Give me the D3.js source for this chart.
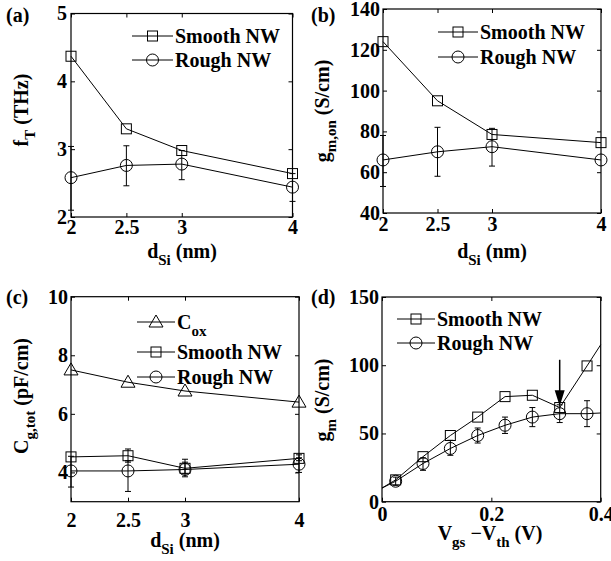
<!DOCTYPE html>
<html>
<head>
<meta charset="utf-8">
<script src="https://cdn.jsdelivr.net/npm/d3@7"></script>
<style>
  body { margin: 0; background: #fff; }
</style>
</head>
<body>
<svg width="611" height="561"></svg>
<script>
// panels (a)-(c): silicon thickness
var dSi = [2, 2.5, 3, 4];
var dSiTicks = [2, 2.5, 3, 4];

// (a) cutoff frequency, THz
var ftSmooth = [4.37, 3.3, 2.98, 2.64];
var ftRough = [2.58, 2.76, 2.78, 2.44];
var ftRoughLo = [2.1, 2.46, 2.55, 2.23];
var ftRoughHi = [3.04, 3.05, 2.98, 2.64];

// (b) on-state transconductance, S/cm
var gmSmooth = [124, 95, 78.5, 74.5];
var gmRough = [66, 70, 72.5, 66];
var gmRoughLo = [53, 58, 63, 66];
var gmRoughHi = [78, 82, 81.5, 66];

// (c) gate capacitance, pF/cm
var cox = [7.5, 7.08, 6.78, 6.4];
var cgSmooth = [4.53, 4.57, 4.14, 4.48];
var cgSmoothLo = [4.53, 4.35, 3.95, 4.4];
var cgSmoothHi = [4.53, 4.8, 4.45, 4.6];
var cgRough = [4.05, 4.05, 4.1, 4.28];
var cgRoughLo = [3.5, 3.35, 3.85, 4.0];
var cgRoughHi = [4.55, 4.4, 4.35, 4.5];

// (d) transconductance vs overdrive
var vov = [0, 0.025, 0.075, 0.125, 0.175, 0.225, 0.275, 0.325, 0.375, 0.4];
var gmSmoothV = [10, 16, 33, 48.5, 62, 77, 78, 69, 99.5, 115];
var gmRoughV = [10, 15, 28, 39, 48.5, 56, 62, 64.5, 64.5, 65];
var gmRoughVLo = [null, 12, 23, 34, 43, 50, 55, 58, 55, null];
var gmRoughVHi = [null, 18, 32, 45, 54, 62, 69, 71, 74, null];
var arrowV = [0.325, 104, 70];

var FONT = "'Liberation Serif', 'Times New Roman', Times, 'Nimbus Roman', 'Nimbus Roman No9 L', FreeSerif, Tinos, 'Noto Serif', 'DejaVu Serif', serif";
var svg = d3.select("svg")
    .style("font-family", FONT)
    .style("font-weight", "bold");
var line = d3.line();

function panel(o) {
    var x = d3.scaleLinear().domain(o.xd).range([o.l, o.r]);
    var y = d3.scaleLinear().domain(o.yd).range([o.b, o.t]);
    var g = svg.append("g");

    g.append("g").attr("transform", "translate(0," + o.b + ")")
        .call(d3.axisBottom(x).tickValues(o.xt).tickSize(-4).tickPadding(o.xpad).tickFormat(d3.format("")))
        .call(styleAxis);
    g.append("g").attr("transform", "translate(0," + o.t + ")")
        .call(d3.axisTop(x).tickValues(o.xt).tickSize(-4).tickFormat(""))
        .call(styleAxis);
    g.append("g").attr("transform", "translate(" + o.l + ",0)")
        .call(d3.axisLeft(y).tickValues(o.yt).tickSize(-4).tickPadding(o.ypad).tickFormat(d3.format("")))
        .call(styleAxis);
    g.append("g").attr("transform", "translate(" + o.r + ",0)")
        .call(d3.axisRight(y).tickValues(o.yt).tickSize(-4).tickFormat(""))
        .call(styleAxis);

    g.append("rect")
        .attr("x", o.l).attr("y", o.t)
        .attr("width", o.r - o.l).attr("height", o.b - o.t)
        .attr("fill", "none").attr("stroke", "#000").attr("stroke-width", 1.2);

    return { g: g, x: x, y: y };
}

function styleAxis(sel) {
    sel.attr("font-family", null).attr("font-size", 20);
    sel.select(".domain").remove();
    sel.selectAll(".tick line").attr("stroke", "#000").attr("stroke-width", 1);
    sel.selectAll(".tick text").attr("fill", "#000");
}

function series(p, xs, ys, marker, lo, hi, skipEnds) {
    var pts = xs.map(function (v, i) { return [p.x(v), p.y(ys[i])]; });
    p.g.append("path").attr("d", line(pts))
        .attr("fill", "none").attr("stroke", "#000").attr("stroke-width", 1);
    if (lo) {
        xs.forEach(function (v, i) {
            if (lo[i] == null || lo[i] === hi[i]) return;
            var cx = p.x(v), y0 = p.y(lo[i]), y1 = p.y(hi[i]);
            p.g.append("path")
                .attr("d", "M" + cx + "," + y0 + "V" + y1 + "M" + (cx - 3) + "," + y0 + "H" + (cx + 3) + "M" + (cx - 3) + "," + y1 + "H" + (cx + 3))
                .attr("fill", "none").attr("stroke", "#000").attr("stroke-width", 1);
        });
    }
    pts.forEach(function (pt, i) {
        if (skipEnds && (i === 0 || i === pts.length - 1)) return;
        drawMarker(p.g, marker, pt[0], pt[1]);
    });
}

function drawMarker(g, type, cx, cy) {
    if (type === "square") {
        g.append("rect").attr("x", cx - 5).attr("y", cy - 5).attr("width", 10).attr("height", 10)
            .attr("fill", "none").attr("stroke", "#000").attr("stroke-width", 1);
    } else if (type === "circle") {
        g.append("circle").attr("cx", cx).attr("cy", cy).attr("r", 6)
            .attr("fill", "none").attr("stroke", "#000").attr("stroke-width", 1);
    } else {
        g.append("path").attr("d", "M" + cx + "," + (cy - 7) + "L" + (cx + 7) + "," + (cy + 5) + "L" + (cx - 7) + "," + (cy + 5) + "Z")
            .attr("fill", "none").attr("stroke", "#000").attr("stroke-width", 1);
    }
}

function legend(g, x0, x1, ys, items) {
    items.forEach(function (it, i) {
        var yy = ys[i];
        g.append("line").attr("x1", x0).attr("x2", x1).attr("y1", yy).attr("y2", yy)
            .attr("stroke", "#000").attr("stroke-width", 1);
        drawMarker(g, it.m, (x0 + x1) / 2, yy);
        var t = g.append("text").attr("x", x1 + 2).attr("y", yy + 7).attr("font-size", 20);
        it.t.forEach(function (s) {
            var ts = t.append("tspan").text(s[0]);
            if (s[1]) ts.attr("font-size", 15).attr("dy", 7);
        });
    });
}

// rich text: parts [text, sub?]
function label(g, x, y, parts, rot) {
    var t = g.append("text").attr("font-size", 20).attr("text-anchor", "middle");
    if (rot) t.attr("transform", "translate(" + x + "," + y + ") rotate(-90)");
    else t.attr("x", x).attr("y", y);
    var down = false;
    parts.forEach(function (s) {
        var ts = t.append("tspan").text(s[0]);
        if (s[1] && !down) { ts.attr("font-size", 15).attr("dy", 7); down = true; }
        else if (!s[1] && down) { ts.attr("dy", -7); down = false; }
    });
    return t;
}

// (a)
var pa = panel({ l: 71, r: 292.5, t: 13.5, b: 217, xd: [2, 4], yd: [2, 5], xt: dSiTicks, yt: [2, 3, 4, 5], xpad: 3, ypad: 4 });
series(pa, dSi, ftSmooth, "square");
series(pa, dSi, ftRough, "circle", ftRoughLo, ftRoughHi);
legend(pa.g, 132, 173, [36, 60], [{ m: "square", t: [["Smooth NW"]] }, { m: "circle", t: [["Rough NW"]] }]);
svg.append("text").attr("x", 6).attr("y", 22).attr("font-size", 20).text("(a)");
label(pa.g, 28, 110, [["f"], ["T", 1], [" (THz)"]], true);
label(pa.g, 182, 258, [["d"], ["Si", 1], [" (nm)"]]);

// (b)
var pb = panel({ l: 383, r: 601, t: 9, b: 213, xd: [2, 4], yd: [40, 140], xt: dSiTicks, yt: [40, 60, 80, 100, 120, 140], xpad: 4, ypad: 3 });
series(pb, dSi, gmSmooth, "square");
series(pb, dSi, gmRough, "circle", gmRoughLo, gmRoughHi);
legend(pb.g, 438, 478, [32, 57], [{ m: "square", t: [["Smooth NW"]] }, { m: "circle", t: [["Rough NW"]] }]);
svg.append("text").attr("x", 311).attr("y", 22).attr("font-size", 20).text("(b)");
label(pb.g, 329, 111, [["g"], ["m,on", 1], [" (S/cm)"]], true);
label(pb.g, 492, 258, [["d"], ["Si", 1], [" (nm)"]]);

// (c)
var pc = panel({ l: 71, r: 299, t: 296.7, b: 501.7, xd: [2, 4], yd: [3, 10], xt: dSiTicks, yt: [4, 6, 8, 10], xpad: 11, ypad: 3 });
series(pc, dSi, cox, "triangle");
series(pc, dSi, cgSmooth, "square", cgSmoothLo, cgSmoothHi);
series(pc, dSi, cgRough, "circle", cgRoughLo, cgRoughHi);
legend(pc.g, 137, 175, [322, 352, 377], [
    { m: "triangle", t: [["C"], ["ox", 1]] },
    { m: "square", t: [["Smooth NW"]] },
    { m: "circle", t: [["Rough NW"]] }]);
svg.append("text").attr("x", 6).attr("y", 304).attr("font-size", 20).text("(c)");
label(pc.g, 28, 396, [["C"], ["g,tot", 1], [" (pF/cm)"]], true);
label(pc.g, 185, 547, [["d"], ["Si", 1], [" (nm)"]]);

// (d)
var pd = panel({ l: 382, r: 600.7, t: 297, b: 501.7, xd: [0, 0.4], yd: [0, 150], xt: [0, 0.2, 0.4], yt: [0, 50, 100, 150], xpad: 5, ypad: 3 });
series(pd, vov, gmSmoothV, "square", null, null, true);
series(pd, vov, gmRoughV, "circle", gmRoughVLo, gmRoughVHi, true);
legend(pd.g, 397, 435, [319, 343], [{ m: "square", t: [["Smooth NW"]] }, { m: "circle", t: [["Rough NW"]] }]);
svg.append("text").attr("x", 311).attr("y", 304).attr("font-size", 20).text("(d)");
label(pd.g, 329, 400, [["g"], ["m", 1], [" (S/cm)"]], true);
label(pd.g, 490, 540, [["V"], ["gs", 1], [" \u2212V"], ["th", 1], [" (V)"]]);

// arrow marking the kink in (d)
var ax = pd.x(arrowV[0]), ay0 = pd.y(arrowV[1]), ay1 = pd.y(arrowV[2]);
pd.g.append("line").attr("x1", ax).attr("x2", ax).attr("y1", ay0).attr("y2", ay1 - 12)
    .attr("stroke", "#000").attr("stroke-width", 1.5);
pd.g.append("path").attr("d", "M" + (ax - 5) + "," + (ay1 - 16) + "L" + (ax + 5) + "," + (ay1 - 16) + "L" + ax + "," + ay1 + "Z")
    .attr("fill", "#000");
</script>
</body>
</html>
